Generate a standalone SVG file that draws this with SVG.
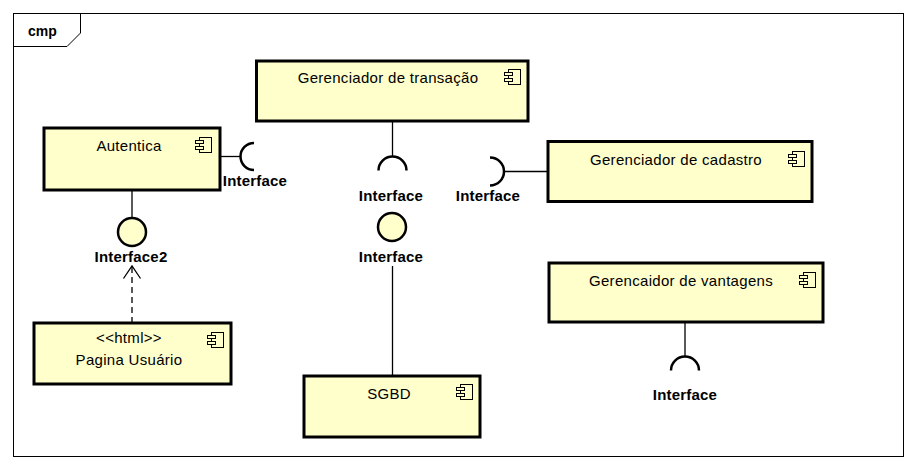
<svg xmlns="http://www.w3.org/2000/svg" width="916" height="470" viewBox="0 0 916 470">
<style>
.box{fill:#FFFFCC;stroke:#000;stroke-width:3}
.ln{fill:none;stroke:#000;stroke-width:1.3}
.sock{fill:none;stroke:#000;stroke-width:2.5}
.ball{fill:#FFFFCC;stroke:#000;stroke-width:2.5}
.nm{font-family:"Liberation Sans",Arial,sans-serif;font-size:15px;letter-spacing:0.3px;fill:#000;text-anchor:middle}
.lb{font-family:"Liberation Sans",Arial,sans-serif;font-size:15px;font-weight:bold;letter-spacing:0.2px;fill:#000;text-anchor:middle}
.ic{fill:#FFFFCC;stroke:#000;stroke-width:1}
</style>
<defs>
<g id="icon">
<rect class="ic" x="0" y="0" width="12" height="15"/>
<rect class="ic" x="-4" y="3" width="8" height="3"/>
<rect class="ic" x="-4" y="9" width="8" height="3"/>
</g>
<marker id="open" viewBox="0 0 20 20" refX="18" refY="10" markerWidth="20" markerHeight="20" markerUnits="userSpaceOnUse" orient="auto">
<path d="M5.5,1.5 L18,10 L5.5,18.5" fill="none" stroke="#000" stroke-width="1.3"/>
</marker>
</defs>
<rect x="0" y="0" width="916" height="470" fill="#fff"/>
<g id="frame">
<rect x="13.5" y="13.5" width="890" height="443" fill="none" stroke="#000" stroke-width="1"/>
<path d="M13.5,46.5 H67 L80.5,33 V13.5" fill="none" stroke="#000" stroke-width="1"/>
<text x="28" y="36" font-family="Liberation Sans,Arial,sans-serif" font-size="14" font-weight="bold">cmp</text>
</g>
<g id="connectors">
<line class="ln" x1="220" y1="156.5" x2="241" y2="156.5"/>
<line class="ln" x1="132" y1="190" x2="132" y2="218"/>
<line class="ln" x1="132" y1="323" x2="132" y2="266" stroke-dasharray="6,4" marker-end="url(#open)"/>
<line class="ln" x1="392.5" y1="121" x2="392.5" y2="157"/>
<line class="ln" x1="392.5" y1="266" x2="392.5" y2="376"/>
<line class="ln" x1="503" y1="171.5" x2="548" y2="171.5"/>
<line class="ln" x1="685" y1="322" x2="685" y2="357"/>
</g>
<g id="iface-autentica">
<path class="sock" d="M254,143 A13.5,13.5 0 0 0 254,170"/>
<text class="lb" x="255" y="186">Interface</text>
</g>
<g id="iface2">
<circle class="ball" cx="132" cy="232" r="14"/>
<text class="lb" x="131" y="262">Interface2</text>
</g>
<g id="iface-transacao-req">
<path class="sock" d="M378.5,170.5 A14,14 0 0 1 406.5,170.5"/>
<text class="lb" x="391" y="201">Interface</text>
</g>
<g id="iface-transacao-prov">
<circle class="ball" cx="392" cy="227" r="14"/>
<text class="lb" x="391" y="262">Interface</text>
</g>
<g id="iface-cadastro">
<path class="sock" d="M490,157.5 A14,14 0 0 1 490,185.5"/>
<text class="lb" x="488" y="201">Interface</text>
</g>
<g id="iface-vantagens">
<path class="sock" d="M671,370.5 A14,14 0 0 1 699,370.5"/>
<text class="lb" x="685" y="400">Interface</text>
</g>
<g id="autentica">
<rect class="box" x="44" y="128" width="176" height="62"/>
<text class="nm" x="129" y="151">Autentica</text>
<use href="#icon" x="199.5" y="137.5"/>
</g>
<g id="transacao">
<rect class="box" x="256.5" y="61" width="271.5" height="60"/>
<text class="nm" x="388" y="83">Gerenciador de transação</text>
<use href="#icon" x="508.5" y="69.5"/>
</g>
<g id="cadastro">
<rect class="box" x="548" y="141.5" width="264" height="60"/>
<text class="nm" x="676" y="165">Gerenciador de cadastro</text>
<use href="#icon" x="792.5" y="151.5"/>
</g>
<g id="vantagens">
<rect class="box" x="549" y="263" width="274" height="59"/>
<text class="nm" x="681" y="286">Gerencaidor de vantagens</text>
<use href="#icon" x="803.5" y="272.5"/>
</g>
<g id="sgbd">
<rect class="box" x="304" y="376" width="176" height="61"/>
<text class="nm" x="389" y="399">SGBD</text>
<use href="#icon" x="460.5" y="384.5"/>
</g>
<g id="pagina">
<rect class="box" x="34" y="323" width="197" height="61"/>
<text class="nm" x="129" y="343">&lt;&lt;html&gt;&gt;</text>
<text class="nm" x="129" y="365">Pagina Usuário</text>
<use href="#icon" x="211.5" y="332.5"/>
</g>
</svg>
